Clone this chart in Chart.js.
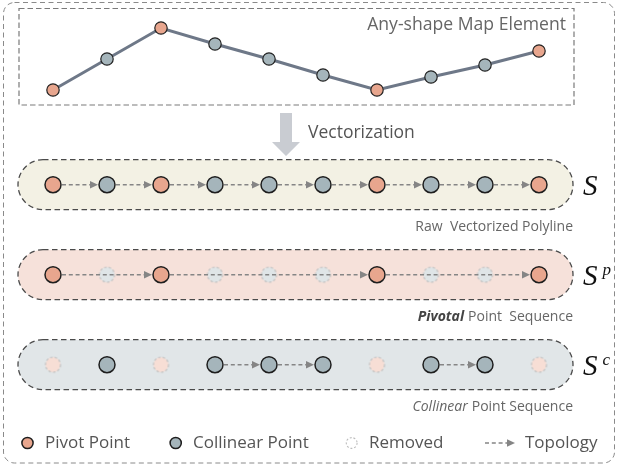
<!DOCTYPE html>
<html><head><meta charset="utf-8">
<script src="https://cdn.jsdelivr.net/npm/chart.js@4.4.0/dist/chart.umd.min.js"></script>
<style>html,body{margin:0;padding:0;background:#fff;overflow:hidden}canvas{display:block}</style>
</head><body>
<canvas id="c" width="618" height="469"></canvas>
<script>
// ---------------- data ----------------
const vertexIds = [1, 2, 3, 4, 5, 6, 7, 8, 9, 10];
const elevation = [1.0, 4.1, 7.2, 5.6, 4.1, 2.5, 1.0, 2.3, 3.5, 4.9];
const vertexType = ['pivot', 'collinear', 'pivot', 'collinear', 'collinear', 'collinear', 'pivot', 'collinear', 'collinear', 'pivot'];
const sequenceRows = [1, 2, 3];
const sequenceKeeps = [['pivot', 'collinear'], ['pivot'], ['collinear']];
const topologyEdges = [
  [[1, 2], [2, 3], [3, 4], [4, 5], [5, 6], [6, 7], [7, 8], [8, 9], [9, 10]],
  [[1, 3], [3, 7], [7, 10]],
  [[4, 5], [5, 6], [8, 9]]
];
const sequenceSymbol = 'S';
const sequenceSuperscripts = ['', 'p', 'c'];
const captionEmphasis = ['', 'Pivotal', 'Collinear'];
const captionRest = ['Raw  Vectorized Polyline', 'Point  Sequence', 'Point Sequence'];
const elementTitle = 'Any-shape Map Element';
const stepLabel = 'Vectorization';
const legendLabels = ['Pivot Point', 'Collinear Point', 'Removed', 'Topology'];

// ---------------- layout / style ----------------
const W = 618, H = 469;
const PX_PER_VERTEX = 54, FIRST_VERTEX_PX = 53;
const ROW1_PX = 184.7, ROW_GAP_PX = 90;
const ELEV0_PX = 100, PX_PER_ELEV = 10;
const BAND_HALF = 25;
const DOT_R = 8, TOP_DOT_R = 6.2;
const COL = {
  pivot: '#e8a68e', collinear: '#a5b5bb',
  pivotGone: '#f7ded5', collinearGone: '#dfe5e7',
  bands: ['#f3f1e4', '#f6e1da', '#e1e6e8'],
  text: '#555555', edge: '#858585'
};
const FONT = '"Open Sans", "Noto Sans", sans-serif';

const xMin = 1 - FIRST_VERTEX_PX / PX_PER_VERTEX;
const yMin = 1 - ROW1_PX / ROW_GAP_PX;
const eMax = ELEV0_PX / PX_PER_ELEV;

function dashedDot(fill, r) {
  const c = document.createElement('canvas');
  const s = Math.ceil(2 * r + 4);
  c.width = c.height = s;
  const g = c.getContext('2d');
  g.beginPath(); g.arc(s / 2, s / 2, r, 0, 2 * Math.PI);
  g.fillStyle = fill; g.fill();
  g.setLineDash([2.6, 2]); g.strokeStyle = '#c2c2c2'; g.lineWidth = 1.2; g.stroke();
  return c;
}
const goneStyle = { pivot: dashedDot(COL.pivotGone, DOT_R - 0.5), collinear: dashedDot(COL.collinearGone, DOT_R - 0.5) };

// ---------------- datasets ----------------
const datasets = [];
datasets.push({
  type: 'line', label: 'element', yAxisID: 'yTop', order: 0,
  data: vertexIds.map((v, i) => ({ x: v, y: elevation[i] })),
  borderColor: '#6e7888', borderWidth: 3, tension: 0,
  pointRadius: TOP_DOT_R, pointBorderWidth: 1.2, pointBorderColor: '#222',
  pointBackgroundColor: vertexType.map(t => COL[t])
});
sequenceRows.forEach((row, r) => {
  const kept = vertexIds.map((v, i) => i).filter(i => sequenceKeeps[r].includes(vertexType[i]));
  const gone = vertexIds.map((v, i) => i).filter(i => !sequenceKeeps[r].includes(vertexType[i]));
  datasets.push({
    type: 'scatter', label: 'kept' + row, yAxisID: 'y', order: 0,
    data: kept.map(i => ({ x: vertexIds[i], y: row })),
    pointRadius: DOT_R, pointBorderWidth: 1.5, pointBorderColor: '#1e1e1e',
    pointBackgroundColor: kept.map(i => COL[vertexType[i]])
  });
  datasets.push({
    type: 'scatter', label: 'gone' + row, yAxisID: 'y', order: 1,
    data: gone.map(i => ({ x: vertexIds[i], y: row })),
    pointStyle: gone.map(i => goneStyle[vertexType[i]]), pointRadius: DOT_R
  });
});

// ---------------- helpers ----------------
function roundRect(ctx, x, y, w, h, r) {
  ctx.beginPath();
  ctx.moveTo(x + r, y); ctx.lineTo(x + w - r, y); ctx.arcTo(x + w, y, x + w, y + r, r);
  ctx.lineTo(x + w, y + h - r); ctx.arcTo(x + w, y + h, x + w - r, y + h, r);
  ctx.lineTo(x + r, y + h); ctx.arcTo(x, y + h, x, y + h - r, r);
  ctx.lineTo(x, y + r); ctx.arcTo(x, y, x + r, y, r); ctx.closePath();
}
function arrow(ctx, x1, x2, y) {
  ctx.save();
  ctx.strokeStyle = COL.edge; ctx.fillStyle = COL.edge; ctx.lineWidth = 1.6;
  ctx.setLineDash([4, 2.8]);
  ctx.beginPath(); ctx.moveTo(x1, y); ctx.lineTo(x2 - 6, y); ctx.stroke();
  ctx.setLineDash([]);
  ctx.beginPath(); ctx.moveTo(x2, y); ctx.lineTo(x2 - 8, y - 3.8); ctx.lineTo(x2 - 8, y + 3.8); ctx.closePath(); ctx.fill();
  ctx.restore();
}

const diagram = {
  id: 'diagram',
  beforeDatasetsDraw(chart) {
    const ctx = chart.ctx, xs = chart.scales.x, ys = chart.scales.y;
    ctx.save();
    // outer frame
    ctx.setLineDash([5, 3.5]); ctx.strokeStyle = '#8a8a8a'; ctx.lineWidth = 1;
    roundRect(ctx, 3.5, 2.5, 611, 460.5, 11); ctx.stroke();
    // top box
    ctx.strokeStyle = '#7a7a7a'; ctx.lineWidth = 1.2; ctx.setLineDash([5.5, 3]);
    ctx.strokeRect(19, 8.5, 555, 96.5);
    ctx.setLineDash([]);
    ctx.fillStyle = '#666'; ctx.font = '17.6px ' + FONT; ctx.textAlign = 'right'; ctx.textBaseline = 'middle';
    ctx.fillText(elementTitle, 566, 25);
    // vectorization arrow
    ctx.fillStyle = '#c9ccd2';
    ctx.beginPath();
    ctx.moveTo(280, 113); ctx.lineTo(292, 113); ctx.lineTo(292, 142); ctx.lineTo(300, 142);
    ctx.lineTo(286, 156); ctx.lineTo(272, 142); ctx.lineTo(280, 142); ctx.closePath(); ctx.fill();
    ctx.fillStyle = COL.text; ctx.font = '17.5px ' + FONT; ctx.textAlign = 'left';
    ctx.fillText(stepLabel, 308, 133);
    // bands
    const bx0 = xs.getPixelForValue(vertexIds[0]) - 35;
    const bx1 = xs.getPixelForValue(vertexIds[vertexIds.length - 1]) + 34;
    sequenceRows.forEach((row, r) => {
      const cy = ys.getPixelForValue(row);
      roundRect(ctx, bx0, cy - BAND_HALF, bx1 - bx0, 2 * BAND_HALF, BAND_HALF);
      ctx.fillStyle = COL.bands[r]; ctx.fill();
      ctx.setLineDash([5.5, 3.5]); ctx.strokeStyle = '#4a4a4a'; ctx.lineWidth = 1.3; ctx.stroke();
      ctx.setLineDash([]);
    });
    ctx.restore();
  },
  afterDatasetsDraw(chart) {
    const ctx = chart.ctx, xs = chart.scales.x, ys = chart.scales.y;
    ctx.save();
    const edgeOff = DOT_R + 1;
    sequenceRows.forEach((row, r) => {
      const cy = ys.getPixelForValue(row);
      topologyEdges[r].forEach(([a, b]) => {
        arrow(ctx, xs.getPixelForValue(a) + edgeOff, xs.getPixelForValue(b) - edgeOff, cy);
      });
      // symbol
      ctx.fillStyle = '#111'; ctx.textBaseline = 'alphabetic'; ctx.textAlign = 'left';
      ctx.font = 'italic 29px "Liberation Serif", serif';
      ctx.fillText(sequenceSymbol, 583, cy + 10);
      if (sequenceSuperscripts[r]) {
        ctx.font = 'italic 17px "Liberation Serif", serif';
        ctx.fillText(sequenceSuperscripts[r], 602.5, cy + 0.5);
      }
      // caption
      ctx.fillStyle = '#666'; ctx.textBaseline = 'middle';
      const capY = cy + 42;
      let x = 573;
      ctx.font = '14px ' + FONT;
      const restW = ctx.measureText(captionRest[r]).width;
      ctx.textAlign = 'right';
      ctx.fillText(captionRest[r], x, capY);
      if (captionEmphasis[r]) {
        x -= restW + 4;
        ctx.font = (r === 1 ? 'italic bold 14px ' : 'italic 14px ') + FONT;
        if (r === 1) ctx.fillStyle = '#444';
        ctx.fillText(captionEmphasis[r], x, capY);
      }
    });
    // legend
    const ly = 443;
    ctx.textAlign = 'left'; ctx.textBaseline = 'middle'; ctx.font = '17px ' + FONT;
    const dot = (x, fill) => { ctx.beginPath(); ctx.arc(x, ly, 5.6, 0, 2 * Math.PI); ctx.fillStyle = fill; ctx.fill(); ctx.lineWidth = 1.5; ctx.strokeStyle = '#1e1e1e'; ctx.stroke(); };
    dot(27.5, COL.pivot);
    ctx.fillStyle = COL.text; ctx.fillText(legendLabels[0], 45, ly);
    dot(175.7, COL.collinear);
    ctx.fillStyle = COL.text; ctx.fillText(legendLabels[1], 193, ly);
    ctx.beginPath(); ctx.arc(351.7, ly, 5.4, 0, 2 * Math.PI); ctx.fillStyle = '#fff'; ctx.fill();
    ctx.setLineDash([2, 1.8]); ctx.strokeStyle = '#bdbdbd'; ctx.lineWidth = 1.1; ctx.stroke(); ctx.setLineDash([]);
    ctx.fillStyle = COL.text; ctx.fillText(legendLabels[2], 369, ly);
    arrow(ctx, 485, 515, ly);
    ctx.fillStyle = COL.text; ctx.fillText(legendLabels[3], 525, ly);
    ctx.restore();
  }
};

new Chart(document.getElementById('c'), {
  data: { datasets },
  options: {
    responsive: false, animation: false, devicePixelRatio: 1,
    layout: { padding: 0, autoPadding: false },
    plugins: { legend: { display: false }, tooltip: { enabled: false } },
    scales: {
      x: { type: 'linear', display: false, min: xMin, max: xMin + W / PX_PER_VERTEX },
      y: { type: 'linear', display: false, reverse: true, min: yMin, max: yMin + H / ROW_GAP_PX },
      yTop: { type: 'linear', display: false, min: eMax - H / PX_PER_ELEV, max: eMax }
    }
  },
  plugins: [diagram]
});
</script>
</body></html>
